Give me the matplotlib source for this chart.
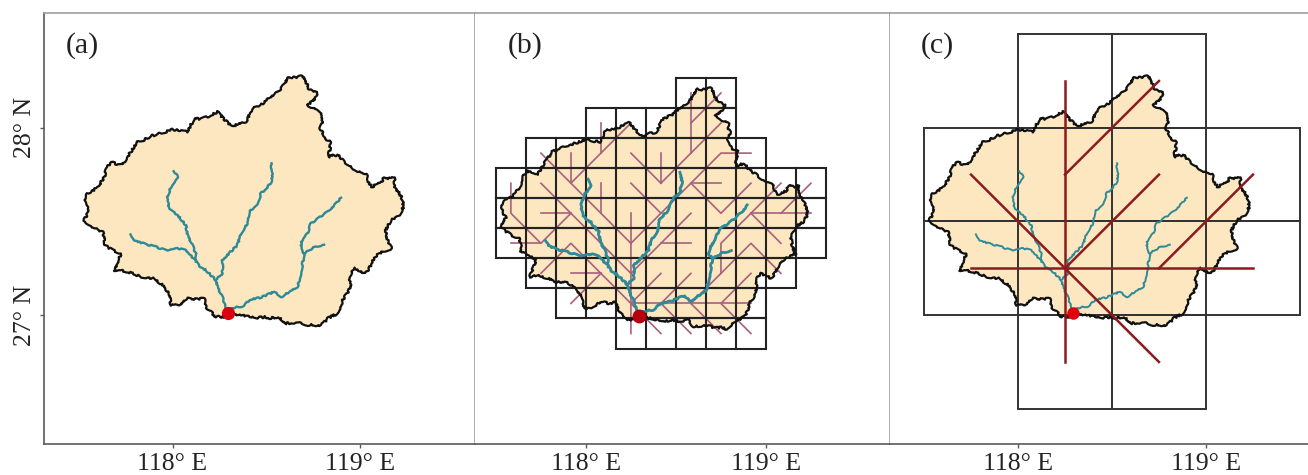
"""Basin map at three grid resolutions, panels (a), (b), (c)."""
import numpy as np
import matplotlib
matplotlib.use("Agg")
import matplotlib.pyplot as plt

FILL = "#FDE7C0"
RIVER = "#2E8A96"
FLOW = "#A8607E"
ROUTE = "#8C1A1E"
SPINE = "#5A5A5A"
DIVIDER = "#A0A0A0"

plt.rcParams["font.family"] = ["Liberation Serif", "DejaVu Serif"]
plt.rcParams["font.size"] = 18.5

# basin boundary, lon/lat pairs
boundary = np.array([
    (118.604, 28.251), (118.622, 28.272), (118.650, 28.268), (118.693, 28.276), (118.710, 28.254),
    (118.716, 28.232), (118.725, 28.210), (118.750, 28.200), (118.773, 28.183), (118.758, 28.151),
    (118.719, 28.121), (118.745, 28.108), (118.764, 28.094), (118.794, 28.077), (118.788, 28.055),
    (118.801, 28.032), (118.787, 27.996), (118.800, 27.975), (118.808, 27.943), (118.844, 27.925),
    (118.838, 27.885), (118.830, 27.845), (118.862, 27.856), (118.888, 27.849), (118.912, 27.820),
    (118.941, 27.801), (118.960, 27.786), (118.986, 27.765), (119.012, 27.760), (119.036, 27.747),
    (119.045, 27.712), (119.062, 27.685), (119.088, 27.698), (119.110, 27.706), (119.128, 27.735),
    (119.160, 27.730), (119.185, 27.735), (119.178, 27.700), (119.190, 27.676), (119.212, 27.645),
    (119.226, 27.614), (119.231, 27.578), (119.208, 27.534), (119.163, 27.507), (119.150, 27.480),
    (119.137, 27.454), (119.146, 27.400), (119.167, 27.356), (119.119, 27.338), (119.075, 27.311),
    (119.062, 27.272), (119.030, 27.222), (118.995, 27.238), (118.968, 27.249), (118.941, 27.205),
    (118.950, 27.170), (118.941, 27.133), (118.906, 27.080), (118.898, 27.040), (118.879, 27.009),
    (118.826, 26.982), (118.806, 26.958), (118.782, 26.941), (118.750, 26.950), (118.719, 26.947),
    (118.690, 26.956), (118.648, 26.959), (118.595, 26.956), (118.568, 26.991), (118.520, 26.984),
    (118.490, 26.990), (118.453, 26.986), (118.400, 26.992), (118.337, 27.005), (118.293, 26.991),
    (118.231, 26.991), (118.178, 27.044), (118.169, 27.089), (118.125, 27.084), (118.080, 27.094),
    (118.036, 27.053), (117.991, 27.053), (117.982, 27.116), (117.947, 27.160), (117.902, 27.196),
    (117.831, 27.205), (117.780, 27.225), (117.725, 27.240), (117.689, 27.231), (117.708, 27.285),
    (117.725, 27.329), (117.680, 27.347), (117.636, 27.374), (117.640, 27.410), (117.627, 27.445),
    (117.585, 27.462), (117.547, 27.489), (117.529, 27.507), (117.556, 27.560), (117.538, 27.585),
    (117.529, 27.614), (117.547, 27.649), (117.580, 27.668), (117.609, 27.694), (117.636, 27.738),
    (117.648, 27.780), (117.671, 27.819), (117.704, 27.806), (117.734, 27.801), (117.755, 27.840),
    (117.778, 27.872), (117.814, 27.925), (117.850, 27.936), (117.885, 27.956), (117.947, 27.973),
    (118.000, 27.991), (118.040, 27.983), (118.080, 27.979), (118.100, 28.020), (118.115, 28.050),
    (118.150, 28.046), (118.186, 28.059), (118.240, 28.085), (118.280, 28.040), (118.320, 28.005),
    (118.355, 28.025), (118.391, 28.032), (118.426, 28.103), (118.480, 28.130), (118.520, 28.165),
    (118.560, 28.192), (118.585, 28.218),
])

# river network
river_main = np.array([
    (118.295, 27.014), (118.284, 27.036), (118.272, 27.080), (118.240, 27.151), (118.231, 27.187),
    (118.178, 27.240), (118.142, 27.262), (118.119, 27.294), (118.071, 27.347), (118.027, 27.356),
    (117.973, 27.343), (117.911, 27.365), (117.831, 27.386), (117.796, 27.400), (117.778, 27.432),
])
river_west = np.array([
    (118.124, 27.285), (118.124, 27.329), (118.098, 27.391), (118.080, 27.427), (118.071, 27.480),
    (118.027, 27.534), (117.982, 27.564), (117.973, 27.632), (117.991, 27.685), (118.027, 27.738),
    (118.009, 27.770),
])
river_north = np.array([
    (118.231, 27.187), (118.266, 27.222), (118.266, 27.294), (118.346, 27.374), (118.364, 27.436),
    (118.400, 27.489), (118.409, 27.552), (118.453, 27.596), (118.471, 27.649), (118.524, 27.703),
    (118.533, 27.756), (118.524, 27.810),
])
river_east = np.array([
    (118.295, 27.014), (118.311, 27.036), (118.373, 27.048), (118.417, 27.084), (118.471, 27.094),
    (118.542, 27.125), (118.581, 27.098), (118.666, 27.151), (118.684, 27.222), (118.702, 27.329),
    (118.684, 27.356), (118.687, 27.391), (118.719, 27.436), (118.737, 27.489), (118.826, 27.552),
    (118.870, 27.596), (118.897, 27.628),
])
river_east_fork = np.array([(118.702, 27.329), (118.764, 27.368), (118.808, 27.374)])
rivers = [river_main, river_west, river_north, river_east, river_east_fork]

outlet_lon, outlet_lat = 118.295, 27.014

# panel (b): 1/6 degree cells, one row per (lat of top edge, lon start, lon end)
fine_rows = [
    (28.333, 118.500, 118.833),
    (28.167, 118.000, 118.833),
    (28.000, 117.667, 119.000),
    (27.833, 117.500, 119.333),
    (27.667, 117.500, 119.333),
    (27.500, 117.500, 119.333),
    (27.333, 117.667, 119.167),
    (27.167, 117.833, 119.000),
    (27.000, 118.167, 119.000),
]

# D8 flow paths on panel (b), as (column, row) of the cell centres
flow_paths = [
    [(7, 0), (6, 1)], [(6, 0), (6, 1), (6, 2)], [(7, 1), (6, 2), (5, 3)],
    [(4, 1), (3, 2), (2, 3)], [(3, 1), (3, 2)], [(2, 2), (2, 3)],
    [(1, 2), (2, 3), (3, 4), (4, 5), (4, 6), (4, 7), (4, 8)],
    [(1, 3), (2, 4), (3, 5), (4, 6)], [(3, 3), (3, 4)], [(0, 3), (0, 4), (1, 5), (2, 4)],
    [(0, 5), (1, 5)], [(1, 4), (2, 4)], [(4, 2), (5, 3)], [(5, 2), (5, 3)],
    [(4, 3), (5, 4), (4, 5)], [(8, 2), (7, 2), (6, 3), (5, 4)], [(7, 3), (6, 3)],
    [(6, 3), (7, 4), (8, 3)], [(9, 3), (8, 4)], [(10, 3), (9, 4)], [(10, 4), (8, 4)],
    [(8, 4), (7, 5), (7, 6), (6, 7)], [(8, 4), (9, 5)], [(4, 4), (4, 5)],
    [(6, 4), (5, 5), (4, 6)], [(6, 5), (5, 5)], [(9, 6), (8, 5), (7, 6)],
    [(8, 6), (7, 7), (8, 8)], [(6, 6), (5, 7), (6, 8)], [(5, 6), (4, 7), (5, 8)],
    [(4, 7), (8, 7)], [(6, 7), (7, 8)], [(1, 6), (2, 5), (3, 6), (4, 7)],
    [(2, 6), (3, 6)], [(2, 7), (3, 6)],
]

# panel (c): half degree cells
coarse_rows = [
    (28.5, 118.0, 119.0),
    (28.0, 117.5, 119.5),
    (27.5, 117.5, 119.5),
    (27.0, 118.0, 119.0),
]
route_lines = [
    [(118.25, 28.25), (118.25, 26.75)],
    [(118.25, 27.75), (118.75, 28.25)],
    [(117.75, 27.75), (118.75, 26.75)],
    [(118.25, 27.25), (118.75, 27.75)],
    [(117.75, 27.25), (119.25, 27.25)],
    [(118.75, 27.25), (119.25, 27.75)],
]

lon_ticks = [118, 119]
lat_ticks = [28, 27]
panel_names = ["(a)", "(b)", "(c)"]

W, H = 1308, 475
# left, right edge in pixels, then axis limits per panel
panels = [
    (44, 475, (117.315, 119.612), (26.312, 28.613)),
    (475, 890, (117.384, 119.689), (26.304, 28.693)),
    (890, 1308, (117.319, 119.543), (26.312, 28.613)),
]
TOP, BOTTOM = 13, 444


def draw_grid(ax, rows, step, lw, color):
    for top, lon0, lon1 in rows:
        bottom = top - step
        ax.plot([lon0, lon1, lon1, lon0, lon0], [top, top, bottom, bottom, top],
                color=color, lw=lw, zorder=4, solid_joinstyle="miter")
        for lon in np.arange(lon0 + step, lon1 - step / 2, step):
            ax.plot([lon, lon], [top, bottom], color=color, lw=lw, zorder=4)


def draw_basin(ax, river_lw):
    ax.fill(boundary[:, 0], boundary[:, 1], color=FILL, lw=0, zorder=1)
    edge, = ax.plot(np.append(boundary[:, 0], boundary[0, 0]), np.append(boundary[:, 1], boundary[0, 1]),
                    color="#111111", lw=1.6, zorder=5)
    edge.set_sketch_params(scale=1.0, length=7, randomness=14)  # ragged edge look only
    for r in rivers:
        ln, = ax.plot(r[:, 0], r[:, 1], color=RIVER, lw=river_lw, zorder=6)
        ln.set_sketch_params(scale=0.7, length=8, randomness=14)


fig = plt.figure(figsize=(W / 100, H / 100), dpi=100)
axes = []
for i, (x0, x1, xlim, ylim) in enumerate(panels):
    ax = fig.add_axes([x0 / W, 1 - BOTTOM / H, (x1 - x0) / W, (BOTTOM - TOP) / H])
    ax.set_xlim(xlim)
    ax.set_ylim(ylim)
    ax.set_xticks(lon_ticks)
    ax.set_xticklabels([f"{t}° E" for t in lon_ticks])
    if i == 0:
        ax.set_yticks(lat_ticks)
        ax.set_yticklabels([f"{t}° N" for t in lat_ticks], rotation=90, va="center")
    else:
        ax.set_yticks([])
    ax.tick_params(axis="x", length=3, width=1, color=SPINE, labelcolor="#222222", pad=3.5)
    ax.tick_params(axis="y", length=3, width=1, color=SPINE, labelcolor="#222222", pad=3)
    ax.spines["bottom"].set_color(SPINE)
    ax.spines["bottom"].set_linewidth(1.2)
    ax.spines["top"].set_color(DIVIDER)
    ax.spines["top"].set_linewidth(1.2)
    ax.spines["left"].set_color(SPINE)
    ax.spines["left"].set_linewidth(1.2)
    ax.spines["left"].set_visible(i == 0)
    ax.spines["right"].set_color(DIVIDER)
    ax.spines["right"].set_linewidth(1.2)
    ax.spines["right"].set_visible(i < 2)
    axes.append(ax)

ax_a, ax_b, ax_c = axes

draw_basin(ax_a, 1.7)
ax_a.plot(outlet_lon, outlet_lat, "o", color="#D8000F", ms=9.5, mec="none", zorder=7)

draw_basin(ax_b, 2.0)
for path in flow_paths:
    lons = [117.5 + (c + 0.5) / 6 for c, r in path]
    lats = [28.333 - (r + 0.5) / 6 for c, r in path]
    ax_b.plot(lons, lats, color=FLOW, lw=1.2, zorder=3)
draw_grid(ax_b, fine_rows, 1 / 6, 1.5, "#222222")
ax_b.plot(outlet_lon, outlet_lat, "o", color="#B5000F", ms=10, mec="none", zorder=7)

draw_basin(ax_c, 1.4)
draw_grid(ax_c, coarse_rows, 0.5, 1.4, "#333333")
for line in route_lines:
    pts = np.array(line)
    ax_c.plot(pts[:, 0], pts[:, 1], color=ROUTE, lw=1.8, zorder=6)
ax_c.plot(outlet_lon, outlet_lat, "o", color="#E0000F", ms=9, mec="none", zorder=7)

label_x = [66, 508, 921]
for ax, (x0, x1, _, _), name, px in zip(axes, panels, panel_names, label_x):
    ax.text((px - x0) / (x1 - x0), 1 - (46 - TOP) / (BOTTOM - TOP), name, transform=ax.transAxes,
            fontsize=21.5, color="#222222", ha="left", va="center")

fig.savefig("out.png", dpi=100, facecolor="white")
